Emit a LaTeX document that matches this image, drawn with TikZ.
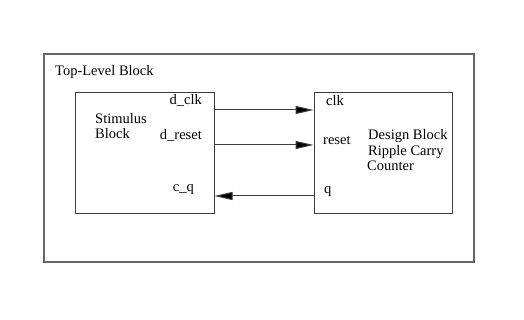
\documentclass[tikz,border=0pt]{standalone}
\usepackage{fontspec}
\setmainfont{Liberation Serif}
\usetikzlibrary{arrows.meta}
\definecolor{edge}{RGB}{60,60,60}
\definecolor{frame}{RGB}{100,100,100}

\begin{document}
\begin{tikzpicture}[
  x=1pt,y=-1pt,
  outer/.style={rectangle,draw=frame,line width=1.3pt,inner sep=0pt,minimum width=430pt,minimum height=208pt},
  blk/.style={rectangle,draw=edge,line width=1pt,inner sep=0pt,minimum width=139pt,minimum height=121pt},
  lbl/.style={inner sep=0pt,font=\rmfamily\fontsize{14.5}{16}\selectfont},
  sig/.style={-{Triangle[length=18pt,width=8pt,fill=black]},edge,line width=1pt}
]
  \useasboundingbox (0,0) rectangle (524,320);
  % ---------------- TOP LEVEL ----------------
  \node[outer] (top) at (259,158) {};
  \node[lbl,anchor=base west] (toplbl) at (55,76) {Top-Level Block};
  % ---------------- STIMULUS ----------------
  \node[blk] (stim) at (144.5,153.5) {};
  \node[lbl,anchor=base west] (stim1) at (95,124) {Stimulus};
  \node[lbl,anchor=base west] (stim2) at (95,138.5) {Block};
  \node[lbl,anchor=base east] (pdclk) at (202,105) {d\_clk};
  \node[lbl,anchor=base east] (pdrst) at (202,140) {d\_reset};
  \node[lbl,anchor=base east] (pcq) at (194,192) {c\_q};
  % ---------------- DESIGN ----------------
  \node[blk,minimum width=138pt] (dsn) at (383,153.5) {};
  \node[lbl,anchor=base west] (pclk) at (326,106) {clk};
  \node[lbl,anchor=base west] (prst) at (323,145) {reset};
  \node[lbl,anchor=base west] (pq) at (324,194) {q};
  \node[lbl,anchor=base west] (dsn1) at (368,140) {Design Block};
  \node[lbl,anchor=base west] (dsn2) at (368,156) {Ripple Carry};
  \node[lbl,anchor=base west] (dsn3) at (367,171) {Counter};
  % ---------------- SIGNALS ----------------
  \coordinate (yclk) at (0,110);
  \coordinate (yrst) at (0,145);
  \coordinate (yq) at (0,196);
  \draw[sig] (stim.east |- yclk) -- (dsn.west |- yclk);
  \draw[sig] (stim.east |- yrst) -- (dsn.west |- yrst);
  \draw[sig] (dsn.west |- yq) -- (stim.east |- yq);
\end{tikzpicture}
\end{document}
